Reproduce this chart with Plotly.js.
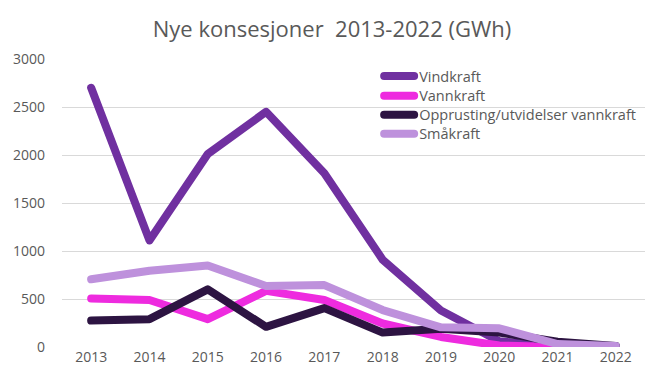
<!DOCTYPE html>
<html>
<head>
<meta charset="utf-8">
<script src="https://cdn.plot.ly/plotly-3.0.1.min.js"></script>
<style>
html,body{margin:0;padding:0;background:#fff}
#chart{width:664px;height:392px}
#chart path.js-line{stroke-linejoin:round;stroke-linecap:round}
#chart .legendlines path{stroke-linecap:round}
</style>
</head>
<body>
<div id="chart"></div>
<script>
const years = ["2013","2014","2015","2016","2017","2018","2019","2020","2021","2022"];
const vindkraft = [2700, 1110, 2010, 2450, 1810, 910, 380, 60, 0, 0];
const vannkraft = [505, 490, 290, 585, 490, 245, 105, 15, 0, 0];
const opprusting = [275, 290, 600, 210, 405, 150, 190, 150, 55, 10];
const smakraft = [705, 795, 850, 635, 645, 385, 205, 195, 30, 10];
const names = ["Vindkraft", "Vannkraft", "Opprusting/utvidelser vannkraft", "Småkraft"];
const colors = ["#7030A0", "#EE2BDF", "#2D1442", "#BE91DC"];
const series = [vindkraft, vannkraft, opprusting, smakraft];
const legendIds = ["legend", "legend2", "legend3", "legend4"];
const legendY = [0.941, 0.872, 0.806, 0.740];

const FONT = "'Open Sans', Lato, sans-serif";

const traces = series.map((s, i) => ({
  x: years, y: s, name: names[i], type: "scatter", mode: "lines",
  legend: legendIds[i],
  line: {color: colors[i], width: 8}
}));

const layout = {
  width: 664, height: 392,
  margin: {l: 62, r: 19, t: 59, b: 45},
  paper_bgcolor: "#ffffff", plot_bgcolor: "#ffffff",
  font: {family: FONT, color: "#595959", size: 14},
  title: {text: "Nye konsesjoner  2013-2022 (GWh)", x: 0.5, xanchor: "center", y: 0.925, yanchor: "middle",
    font: {size: 22, color: "#595959", family: FONT}},
  xaxis: {type: "category", range: [-0.5, 9.5], showgrid: false, zeroline: false, showline: false,
    ticks: "", tickfont: {size: 14, color: "#595959"}},
  yaxis: {range: [0, 3000], dtick: 500, tick0: 0, showgrid: true, gridcolor: "#d9d9d9", gridwidth: 1,
    zeroline: false, showline: false, ticks: "", tickfont: {size: 14, color: "#595959"}, ticklabelstandoff: 16},
  showlegend: true
};
legendIds.forEach((id, i) => {
  layout[id] = {x: 0.544, y: legendY[i], xanchor: "left", yanchor: "middle", bgcolor: "rgba(0,0,0,0)",
    font: {size: 14.5, color: "#595959", family: FONT}, itemwidth: 30};
});
Plotly.newPlot("chart", traces, layout, {displayModeBar: false, staticPlot: true});
</script>
</body>
</html>
